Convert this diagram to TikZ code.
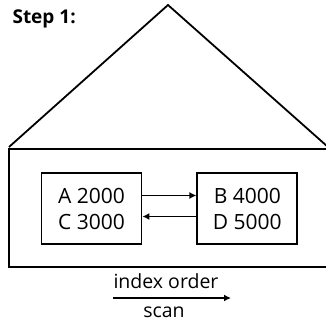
\documentclass[tikz,border=0pt]{standalone}
\usepackage{fontspec}
\setmainfont{Open Sans}
\usetikzlibrary{arrows.meta,positioning}
\tikzset{
  pagebox/.style={draw,line width=1.8pt,minimum width=100pt,minimum height=71pt,
    align=center,inner sep=0pt,font=\fontsize{21}{26}\selectfont},
  link/.style={-{Latex[length=7pt,width=7pt]},line width=1.9pt},
}

\begin{document}
\begin{tikzpicture}[x=1pt,y=-1pt,font=\fontsize{19.5}{25}\selectfont]
  \useasboundingbox (0,0) rectangle (326,323);
  % roof and index body
  \draw[line width=1.8pt] (9,147) -- (168,5) -- (328,147);
  \draw[line width=1.8pt] (328,149) -- (9,149) -- (9,267) -- (328,267);
  \node[anchor=base west,font=\bfseries\fontsize{19}{20}\selectfont] (step) at (9,23.5) {Step 1:};
  % leaf pages
  \node[pagebox] (ac) at (91.5,208.5) {A 2000\\C 3000};
  \node[pagebox,right=54pt of ac] (bd) {B 4000\\D 5000};
  \draw[link] ([yshift=13pt]ac.east) -- ([yshift=13pt]bd.west);
  \draw[link] ([yshift=-8pt]bd.west) -- ([yshift=-8pt]ac.east);
  % scan direction
  \node[anchor=base,inner sep=1pt] (order) at (166,288) {index order};
  \node[anchor=base,inner sep=1pt] (scan) at (164,317) {scan};
  \coordinate (scanfrom) at (113,298);
  \coordinate (scanto) at (231,298);
  \draw[link] (scanfrom) -- (scanto);
\end{tikzpicture}
\end{document}
